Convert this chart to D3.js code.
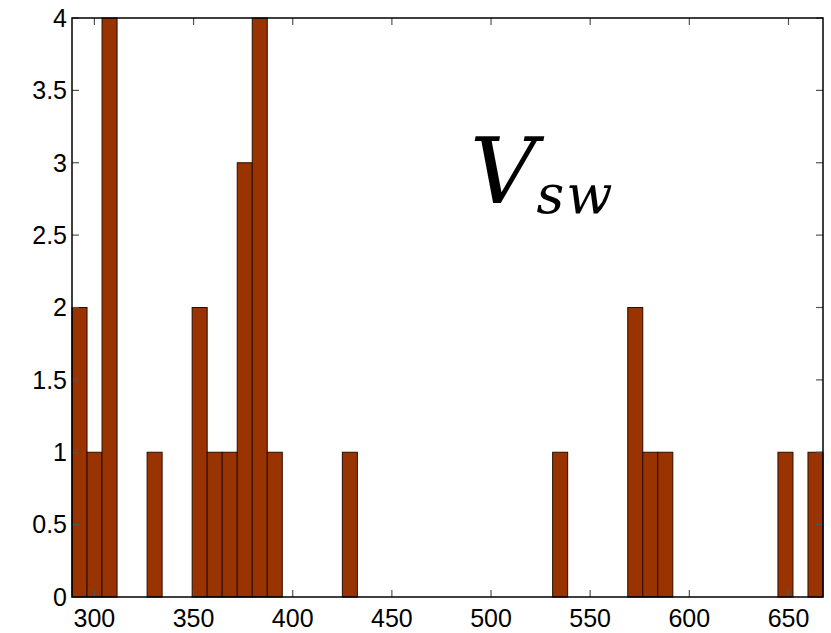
<!DOCTYPE html>
<html>
<head>
<meta charset="utf-8">
<script src="https://cdn.jsdelivr.net/npm/d3@7"></script>
<style>
  body { margin: 0; background: #fff; }
  .tick-label { font-family: "Liberation Sans", Arial, sans-serif; font-size: 25px; fill: #000; }
  .math { font-family: "DejaVu Serif", serif; font-style: italic; fill: #000; }
</style>
</head>
<body>
<div id="chart"></div>
<script>
// Histogram of solar wind speed, 50 equal bins across the data range
var xDomain = [288.7, 667.4];
var binCounts = [2, 1, 4, 0, 0, 1, 0, 0, 2, 1,
                 1, 3, 4, 1, 0, 0, 0, 0, 1, 0,
                 0, 0, 0, 0, 0, 0, 0, 0, 0, 0,
                 0, 0, 1, 0, 0, 0, 0, 2, 1, 1,
                 0, 0, 0, 0, 0, 0, 0, 1, 0, 1];
var xTicks = [300, 350, 400, 450, 500, 550, 600, 650];
var yTicks = [0, 0.5, 1, 1.5, 2, 2.5, 3, 3.5, 4];
var yDomain = [0, 4];

var width = 831, height = 633;
var plot = { left: 72, right: 823, top: 18, bottom: 597 };
var tickLen = 7;

var svg = d3.select('#chart').append('svg')
    .attr('width', width)
    .attr('height', height);

var x = d3.scaleLinear().domain(xDomain).range([plot.left, plot.right]);
var y = d3.scaleLinear().domain(yDomain).range([plot.bottom, plot.top]);

// bin edges come from splitting the domain into binCounts.length slots
var binWidth = (xDomain[1] - xDomain[0]) / binCounts.length;
var bins = binCounts.map(function(c, i) {
    return { x0: xDomain[0] + i * binWidth, x1: xDomain[0] + (i + 1) * binWidth, count: c };
}).filter(function(d) { return d.count > 0; });

svg.append('g').selectAll('rect')
    .data(bins)
    .enter()
    .append('rect')
        .attr('x', function(d) { return x(d.x0); })
        .attr('y', function(d) { return y(d.count); })
        .attr('width', function(d) { return x(d.x1) - x(d.x0); })
        .attr('height', function(d) { return y(0) - y(d.count); })
        .attr('fill', '#993300')
        .attr('stroke', '#2a0d00')
        .attr('stroke-width', 1);

// ticks point inward on all four sides (boxed axes)
var tickG = svg.append('g').attr('stroke', '#555').attr('stroke-width', 1.2);
xTicks.forEach(function(t) {
    tickG.append('line').attr('x1', x(t)).attr('x2', x(t)).attr('y1', plot.bottom).attr('y2', plot.bottom - tickLen);
    tickG.append('line').attr('x1', x(t)).attr('x2', x(t)).attr('y1', plot.top).attr('y2', plot.top + tickLen);
});
yTicks.forEach(function(t) {
    tickG.append('line').attr('x1', plot.left).attr('x2', plot.left + tickLen).attr('y1', y(t)).attr('y2', y(t));
    tickG.append('line').attr('x1', plot.right).attr('x2', plot.right - tickLen).attr('y1', y(t)).attr('y2', y(t));
});

svg.append('rect')
    .attr('x', plot.left).attr('y', plot.top)
    .attr('width', plot.right - plot.left).attr('height', plot.bottom - plot.top)
    .attr('fill', 'none')
    .attr('stroke', '#000')
    .attr('stroke-width', 1.5);

svg.append('g').selectAll('text')
    .data(xTicks)
    .enter()
    .append('text')
        .attr('class', 'tick-label')
        .attr('x', function(d) { return x(d); })
        .attr('y', plot.bottom + 30)
        .attr('text-anchor', 'middle')
        .text(function(d) { return d; });

svg.append('g').selectAll('text')
    .data(yTicks)
    .enter()
    .append('text')
        .attr('class', 'tick-label')
        .attr('x', plot.left - 5)
        .attr('y', function(d) { return y(d); })
        .attr('dy', '0.35em')
        .attr('text-anchor', 'end')
        .text(function(d) { return d; });

// V_sw annotation
var label = svg.append('text')
    .attr('class', 'math')
    .attr('x', 470)
    .attr('y', 203);
label.append('tspan').attr('font-size', 92).text('V');
label.append('tspan').attr('font-size', 54).attr('dy', 10).attr('letter-spacing', 2).text('sw');
</script>
</body>
</html>
